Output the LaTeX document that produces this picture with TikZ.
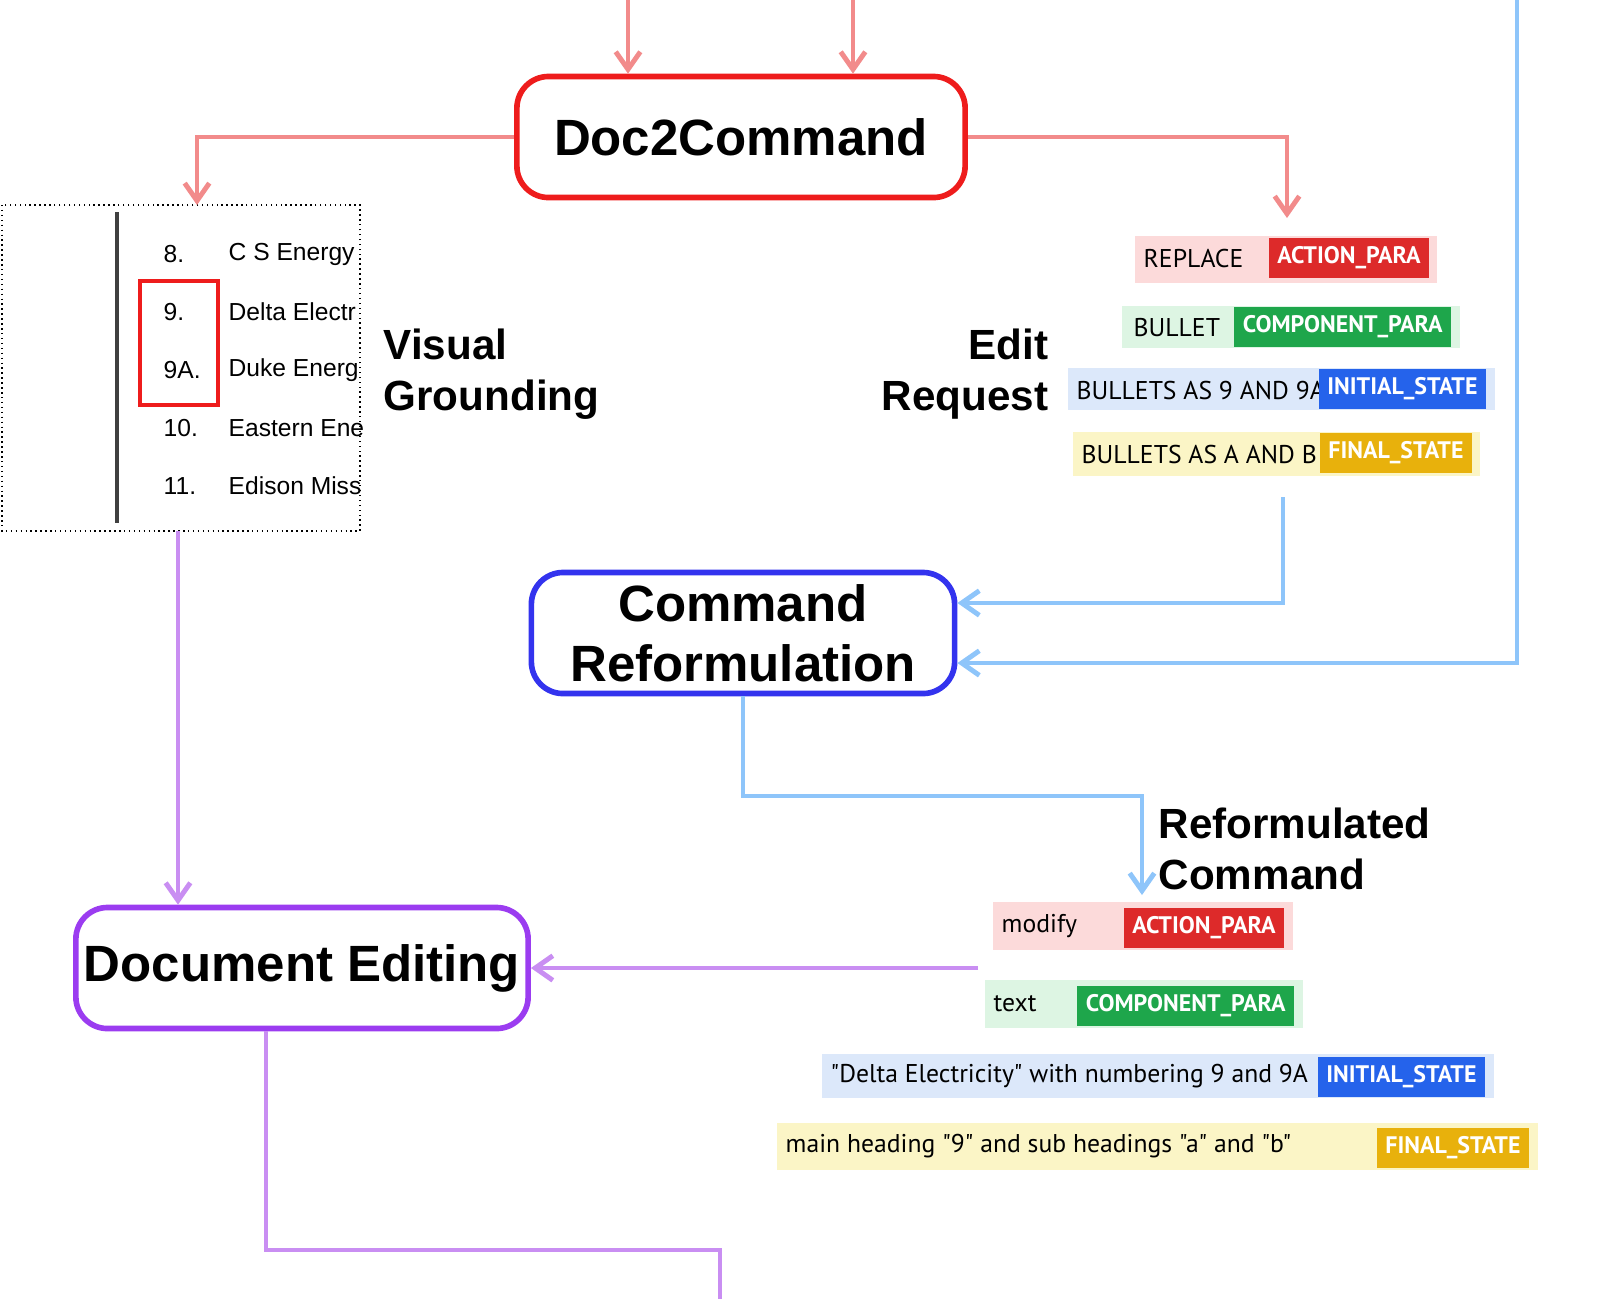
\documentclass[tikz,border=0pt]{standalone}
\usepackage{fontspec}
\setmainfont{Liberation Sans}
\newfontfamily\tagfont{PT Sans}
\usetikzlibrary{arrows.meta,positioning}
\definecolor{pinkarrow}{HTML}{F28B8B}
\definecolor{bluearrow}{HTML}{8EC5FA}
\definecolor{lilacarrow}{HTML}{C98EF2}
\definecolor{boxred}{HTML}{EE1C1C}
\definecolor{boxblue}{HTML}{3333EE}
\definecolor{boxpurple}{HTML}{9B3CF0}
\definecolor{tagred}{HTML}{DD2A2A}
\definecolor{taggreen}{HTML}{1EA64B}
\definecolor{tagblue}{HTML}{2563EB}
\definecolor{tagyellow}{HTML}{E8B10C}
\definecolor{bgred}{HTML}{FCDADA}
\definecolor{bggreen}{HTML}{DDF5E3}
\definecolor{bgblue}{HTML}{DCE8FA}
\definecolor{bgyellow}{HTML}{FBF5C6}
\tikzset{
  stage/.style={draw, line width=1.6pt, rounded corners=9pt, fill=white, align=center,
    font=\fontsize{14.5}{17}\selectfont\bfseries, inner sep=0pt},
  flow/.style={line width=1.4pt, -{Straight Barb[length=5pt,width=7pt]}},
  caption/.style={font=\fontsize{12}{14.5}\selectfont\bfseries, align=left, inner sep=0pt},
  rowtext/.style={font=\tagfont\fontsize{7.3}{9}\selectfont, anchor=west, inner sep=0pt},
  tag/.style={fill=#1, text=white, font=\tagfont\fontsize{6.8}{8}\selectfont\bfseries,
    anchor=east, inner sep=2.5pt, minimum height=0.31cm},
  listitem/.style={font=\fontsize{7}{9}\selectfont, anchor=west, inner sep=0pt}
}
\begin{document}
\begin{tikzpicture}[x=0.01cm,y=-0.01cm]
\useasboundingbox (0,0) rectangle (1600,1299);

% stage boxes
\node[stage, draw=boxred, minimum width=4.48cm, minimum height=1.21cm] (d2c) at (741,137) {Doc2Command};
\node[stage, draw=boxblue, minimum width=4.23cm, minimum height=1.21cm] (reform) at (743,633) {Command\\Reformulation};
\node[stage, draw=boxpurple, minimum width=4.52cm, minimum height=1.21cm] (edit) at (302,968) {Document Editing};

% document snippet
\draw[densely dotted, thin] (2,205) rectangle (360,531);
\coordinate (doc) at (197,205);
\coordinate (docb) at (178,531);
\draw[line width=1pt, black!75] (117,212) -- (117,523);
\foreach \y/\n/\t in {254/8./C S Energy, 312/9./Delta Electr, 370/9A./Duke Energ, 428/10./Eastern Ene, 486/11./Edison Miss}{
  \node[listitem] at (163,\y) {\n};
  \node[listitem] at (228,\y) {\t};
}
\draw[boxred, line width=1.2pt] (140,281) rectangle (218,405);

\node[caption, anchor=west] (vg) at (383,374) {Visual\\Grounding};
\node[caption, anchor=east, align=right] (er) at (1049,374) {Edit\\Request};
\node[caption, anchor=west] (rc) at (1158,849) {Reformulated\\Command};

% edit request
\fill[bgred] (1135,236) rectangle (1437,283);
\node[rowtext] at (1143,259) {REPLACE};
\node[tag=tagred] at (1430,258) {ACTION\_PARA};
\fill[bggreen] (1122,306) rectangle (1460,348);
\node[rowtext] at (1133,328) {BULLET};
\node[tag=taggreen] at (1452,327) {COMPONENT\_PARA};
\fill[bgblue] (1068,368) rectangle (1495,410);
\node[rowtext] at (1076,390) {BULLETS AS 9 AND 9A};
\node[tag=tagblue] at (1487,389) {INITIAL\_STATE};
\fill[bgyellow] (1073,432) rectangle (1480,476);
\node[rowtext] at (1081,454) {BULLETS AS A AND B};
\node[tag=tagyellow] at (1473,453) {FINAL\_STATE};
\coordinate (erin) at (1287,218);
\coordinate (erout) at (1283,497);

% reformulated command
\fill[bgred] (993,902) rectangle (1293,950);
\node[rowtext] at (1001,926) {modify};
\node[tag=tagred] at (1285,928) {ACTION\_PARA};
\fill[bggreen] (985,980) rectangle (1303,1028);
\node[rowtext] at (993,1004) {text};
\node[tag=taggreen] at (1295,1006) {COMPONENT\_PARA};
\fill[bgblue] (822,1054) rectangle (1494,1098);
\node[rowtext] at (830,1076) {"Delta Electricity" with numbering 9 and 9A};
\node[tag=tagblue] at (1486,1077) {INITIAL\_STATE};
\fill[bgyellow] (777,1123) rectangle (1538,1170);
\node[rowtext] at (785,1146) {main heading "9" and sub headings "a" and "b"};
\node[tag=tagyellow] at (1530,1148) {FINAL\_STATE};
\coordinate (rcin) at (1142,895);
\coordinate (rcout) at (978,968);

% free ends
\coordinate (topa) at (628,0);
\coordinate (topb) at (853,0);
\coordinate (topc) at (1517,0);
\coordinate (bottom) at (720,1299);

% connectors
\draw[flow, pinkarrow] (topa) -- (topa |- d2c.north);
\draw[flow, pinkarrow] (topb) -- (topb |- d2c.north);
\draw[flow, pinkarrow] (d2c.west) -| (doc);
\draw[flow, pinkarrow] (d2c.east) -| (erin);
\draw[flow, bluearrow] (erout) |- ([yshift=0.3cm]reform.east);
\draw[flow, bluearrow] (topc) |- ([yshift=-0.3cm]reform.east);
\draw[flow, bluearrow] (reform.south) -- (743,796) -| (rcin);
\draw[flow, lilacarrow] (rcout) -- (edit.east);
\draw[flow, lilacarrow] (docb) -- (docb |- edit.north);
\draw[line width=1.4pt, lilacarrow] (edit.south -| 266,0) -- (266,1250) -| (bottom);
\end{tikzpicture}
\end{document}
